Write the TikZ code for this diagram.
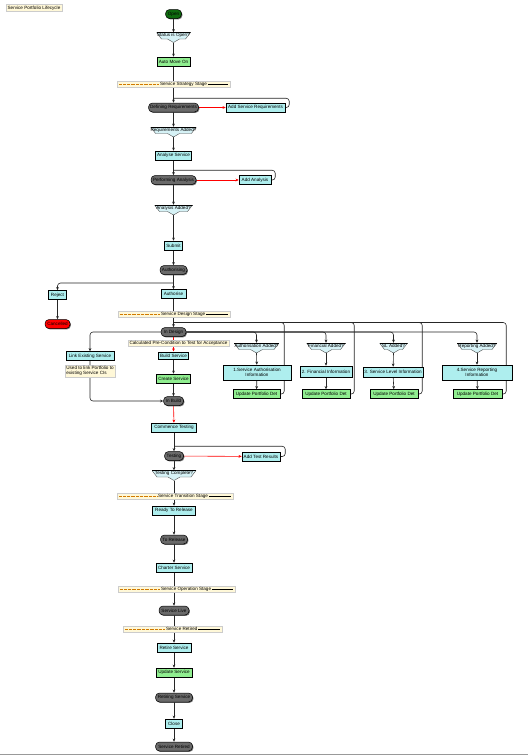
\documentclass[tikz,border=0pt]{standalone}
\usepackage{fontspec}
\setmainfont{Liberation Sans}
\usetikzlibrary{arrows.meta,shadows,calc}
\definecolor{actc}{HTML}{AEEEEE}
\definecolor{grnc}{HTML}{90EE90}
\definecolor{stc}{HTML}{6A6A6A}
\definecolor{openc}{HTML}{0E6A0E}
\definecolor{notec}{HTML}{FFF8D8}
\definecolor{decc}{HTML}{D6F2F6}
\definecolor{stagec}{HTML}{FFF8D8}
\definecolor{dashc}{HTML}{D07A00}
\newcommand\dgfont{\fontsize{4.6}{5.1}\selectfont}
\pgfdeclarelayer{bg}\pgfsetlayers{bg,main}
\tikzset{
 shad/.style={drop shadow={shadow xshift=0.9pt,shadow yshift=-0.9pt,fill=black!70,opacity=0.8}},
 act/.style={rectangle, draw=black, line width=0.5pt, fill=actc, minimum height=9pt, inner sep=0.8pt, font=\dgfont, align=center, shad},
 grn/.style={act, fill=grnc},
 st/.style={rectangle, rounded corners=4pt, draw=black, line width=0.5pt, fill=stc, minimum height=9pt, inner sep=0.8pt, font=\dgfont, shad},
 note/.style={rectangle, draw=black!20, line width=0.3pt, fill=notec, inner sep=0.8pt, font=\dgfont},
 stagebar/.style={rectangle, draw=black!20, line width=0.3pt, fill=stagec, minimum height=6pt, inner sep=0pt},
 stagetxt/.style={inner sep=0.8pt, font=\dgfont, anchor=west},
 dec/.style={rectangle, inner sep=0pt, font=\dgfont, text height=4.3pt, text depth=5.7pt,
   path picture={
    \path[fill=decc, draw=black!70, line width=0.4pt]
      (path picture bounding box.north west) -- (path picture bounding box.north east)
      -- ([xshift=-5pt,yshift=-6.5pt]path picture bounding box.north east)
      -- ([xshift=6pt,yshift=-6.5pt]path picture bounding box.north)
      -- (path picture bounding box.south)
      -- ([xshift=-6pt,yshift=-6.5pt]path picture bounding box.north)
      -- ([xshift=5pt,yshift=-6.5pt]path picture bounding box.north west) -- cycle;
    \draw[line width=1pt] (path picture bounding box.north west) -- (path picture bounding box.north east);
   }},
 arr/.style={-{Stealth[length=3.2pt,width=2.8pt]}, line width=0.6pt, draw=black!85, rounded corners=3pt},
 rarr/.style={arr, draw=red},
 ln/.style={line width=0.6pt, draw=black!85, rounded corners=3pt},
}
\newcommand\stagebox[6]{%
 \node[stagebar, minimum width=#4pt] (#1) at (#2,#3) {};
 \node[stagetxt] (#1t) at (#5,#3) {#6};
 \draw[dashc, dash pattern=on 0.8pt off 0.5pt, line width=0.35pt] ([xshift=2pt]#1.west) -- (#1t.west);
 \draw[black, line width=0.5pt] (#1t.east) -- ([xshift=-2pt]#1.east);
}
\begin{document}
\begin{tikzpicture}[x=1pt,y=-1pt]
\useasboundingbox (0,0) rectangle (528,756);
\draw[black!40, line width=1.2pt] (0,754.5) -- (528,754.5);

\node[note, minimum width=56pt, minimum height=7pt] (title) at (34,8) {Service Portfolio Lifecycle};

% main column
\node[st, fill=openc, minimum width=16pt] (open) at (173.5,14) {Open};
\node[dec, minimum width=34pt] (dopen) at (173.5,37.5) {Status is Open?};
\node[grn, minimum width=33pt] (automove) at (173.5,61.5) {Auto Move On};
\stagebox{sba}{173.5}{84}{113}{159}{Service Strategy Stage}
\node[st, minimum width=50pt] (defreq) at (173.5,107.5) {Defining Requirements};
\node[act, minimum width=59pt] (addreq) at (255.5,107.5) {Add Service Requirements};
\node[dec, minimum width=40pt] (dreq) at (173.5,132) {Requirements Added?};
\node[act, minimum width=36pt] (analyse) at (173.5,155.5) {Analyse Service};
\node[st, minimum width=45pt] (perf) at (173.5,180) {Performing Analysis};
\node[act, minimum width=32pt] (addana) at (255,180) {Add Analysis};
\node[dec, minimum width=38pt] (dana) at (173.5,210) {Analysis Added?};
\node[act, minimum width=18pt] (submit) at (173.5,245.5) {Submit};
\node[st, minimum width=27pt] (authing) at (173.5,270) {Authorising};
\node[act, minimum width=18pt] (reject) at (57.5,295) {Reject};
\node[act, minimum width=25pt] (authorise) at (173.5,294) {Authorise};
\node[st, fill=red, minimum width=25pt] (cancel) at (57.5,324) {Cancelled};
\stagebox{sbb}{174}{314}{112}{160}{Service Design Stage}
\node[st, minimum width=25pt] (indesign) at (173.5,332) {In Design};
\node[act, minimum width=48pt] (link) at (90,356) {Link Existing Service};
\node[note, align=left, minimum width=50pt, minimum height=12pt, inner sep=0.5pt] (used) at (90,371) {Used to link Portfolio to\\existing Service CIs};
\node[act, minimum width=30pt, minimum height=7.5pt] (build) at (173.5,355.5) {Build Service};
\node[note, minimum width=101pt, minimum height=6pt] (calc) at (178.5,343.5) {Calculated Pre-Condition to Test for Acceptance};
\node[grn, minimum width=34pt] (create) at (173.5,378.5) {Create Service};
\node[st, minimum width=20pt] (inbuild) at (173.5,401) {In Build};

% four detail branches
\node[dec, minimum width=45pt] (dA) at (256.5,348) {Authorisation Added?};
\node[dec, minimum width=39pt] (dF) at (326,348) {Financial Added?};
\node[dec, minimum width=28pt] (dS) at (393.5,348) {SL Added?};
\node[dec, minimum width=40pt] (dR) at (477,348) {Reporting Added?};
\node[act, minimum width=68pt, minimum height=15pt] (iA) at (257,372.5) {1.Service Authorisation\\Information};
\node[act, minimum width=52pt, minimum height=11pt] (iF) at (326,371.5) {2. Financial Information};
\node[act, minimum width=60pt, minimum height=10pt] (iS) at (393,372) {3. Service Level Information};
\node[act, minimum width=70pt, minimum height=15pt] (iR) at (477,372.5) {4.Service Reporting\\Information};
\node[grn, minimum width=47pt] (uA) at (256.5,394) {Update Portfolio Det};
\node[grn, minimum width=48pt] (uF) at (326,394) {Update Portfolio Det};
\node[grn, minimum width=48pt] (uS) at (394,394) {Update Portfolio Det};
\node[grn, minimum width=49pt] (uR) at (477.5,394) {Update Portfolio Det};

% testing and later
\node[act, minimum width=45pt] (commence) at (174,427.5) {Commence Testing};
\node[st, minimum width=19pt] (testing) at (174,456) {Testing};
\node[act, minimum width=38pt] (addtest) at (261,456.5) {Add Test Results};
\node[dec, minimum width=44pt] (dtest) at (174,475.5) {Testing Complete?};
\stagebox{sbc}{175}{496}{116}{157}{Service Transition Stage}
\node[act, minimum width=43pt] (ready) at (174,510.5) {Ready To Release};
\node[st, minimum width=27pt] (torel) at (174,539.5) {To Release};
\node[act, minimum width=36pt] (charter) at (174,567.5) {Charter Service};
\stagebox{sbd}{176.5}{589}{117}{160}{Service Operation Stage}
\node[st, minimum width=30pt] (live) at (174,610.5) {Service Live};
\stagebox{sbe}{172.5}{629}{99}{165}{Service Retired}
\node[act, minimum width=34pt] (retire) at (174,647.5) {Retire Service};
\node[grn, minimum width=36pt] (updsvc) at (174,672.5) {Update Service};
\node[st, minimum width=37pt] (retiring) at (174,697.5) {Retiring Service};
\node[act, minimum width=17pt] (close) at (174,723.5) {Close};
\node[st, minimum width=37pt] (final) at (174,746.5) {Service Retired};

\coordinate (brrej) at (173.5,283);
\coordinate (topbus) at (173.5,322.5);

\begin{pgfonlayer}{bg}
\draw[arr] (open) -- (dopen);
\draw[arr] (dopen.south) -- (automove);
\draw[arr] (automove) -- (defreq);
\draw[rarr] (defreq) -- (addreq);
\draw[ln] (addreq.east) -- ++(4,0) |- ([yshift=4.5pt]defreq.north);
\draw[arr] (defreq) -- (dreq);
\draw[arr] (dreq.south) -- (analyse);
\draw[arr] (analyse) -- (perf);
\draw[rarr] (perf) -- (addana);
\draw[ln] (addana.east) -- ++(4,0) |- ([yshift=5pt]perf.north);
\draw[arr] (perf) -- (dana);
\draw[arr] (dana.south) -- (submit);
\draw[arr] (submit) -- (authing);
\draw[arr] (authing) -- (authorise);
\draw[arr] (brrej) -| (reject.north);
\draw[arr] (reject) -- (cancel);
\draw[arr] (authorise) -- (indesign);
\draw[arr] (indesign.west) -| (link.north);
\draw[arr] (link.south) |- (inbuild.west);
\draw[rarr] (indesign) -- (build);
\draw[arr] (build) -- (create);
\draw[arr] (create) -- (inbuild);
\foreach \d/\i/\u in {dA/iA/uA, dF/iF/uF, dS/iS/uS, dR/iR/uR}{
  \draw[arr] (indesign.east) -| (\d.north);
  \draw[arr] (\d.south) -- (\i);
  \draw[arr] (\i) -- (\u);
  \draw[ln] (\u.east) -- ++(4,0) |- (topbus);
}
\draw[rarr] (inbuild) -- (commence);
\draw[arr] (commence) -- (testing);
\draw[rarr] (testing) -- (addtest);
\draw[ln] (addtest.east) -- ++(5,0) |- ([yshift=5pt]testing.north);
\draw[arr] (testing) -- (dtest);
\draw[arr] (dtest.south) -- (ready);
\draw[arr] (ready) -- (torel);
\draw[arr] (torel) -- (charter);
\draw[arr] (charter) -- (live);
\draw[arr] (live) -- (retire);
\draw[arr] (retire) -- (updsvc);
\draw[arr] (updsvc) -- (retiring);
\draw[arr] (retiring) -- (close);
\draw[arr] (close) -- (final);
\end{pgfonlayer}
\end{tikzpicture}
\end{document}
